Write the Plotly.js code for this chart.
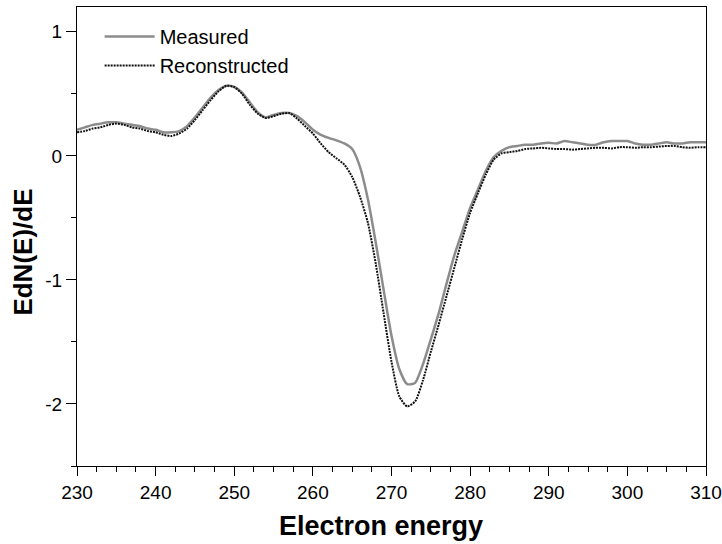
<!DOCTYPE html>
<html>
<head>
<meta charset="utf-8">
<script src="https://cdn.plot.ly/plotly-3.0.1.min.js"></script>
<style>html,body{margin:0;padding:0;background:#fff;}#chart{width:722px;height:544px;}</style>
</head>
<body>
<div id="chart"></div>
<script>
const energy = [230,231,232,233,234,235,236,237,238,239,240,241,242,243,244,245,246,247,248,249,250,251,252,253,254,255,256,257,258,259,260,261,262,263,264,265,266,267,268,269,270,271,272,273,274,275,276,277,278,279,280,281,282,283,284,285,286,287,288,289,290,291,292,293,294,295,296,297,298,299,300,301,302,303,304,305,306,307,308,309,310];

const measured = [0.21,0.23,0.25,0.26,0.27,0.27,0.26,0.25,0.24,0.22,0.21,0.19,0.19,0.20,0.24,0.31,0.39,0.47,0.53,0.565,0.555,0.51,0.43,0.35,0.31,0.33,0.345,0.345,0.32,0.27,0.21,0.17,0.145,0.125,0.10,0.055,-0.09,-0.35,-0.70,-1.08,-1.45,-1.72,-1.84,-1.83,-1.68,-1.48,-1.27,-1.03,-0.80,-0.61,-0.42,-0.27,-0.12,-0.01,0.04,0.07,0.08,0.09,0.09,0.10,0.105,0.10,0.12,0.11,0.10,0.09,0.09,0.11,0.12,0.12,0.12,0.10,0.09,0.09,0.10,0.11,0.10,0.10,0.11,0.11,0.11];

const reconstructed = [0.19,0.20,0.22,0.23,0.25,0.26,0.25,0.23,0.22,0.20,0.19,0.17,0.16,0.18,0.22,0.29,0.37,0.45,0.52,0.565,0.555,0.50,0.41,0.34,0.305,0.32,0.34,0.345,0.30,0.24,0.18,0.10,0.03,-0.02,-0.07,-0.17,-0.33,-0.54,-0.87,-1.27,-1.66,-1.94,-2.02,-1.98,-1.81,-1.58,-1.36,-1.13,-0.90,-0.67,-0.46,-0.30,-0.15,-0.03,0.02,0.03,0.04,0.055,0.06,0.065,0.06,0.055,0.055,0.05,0.055,0.06,0.065,0.065,0.06,0.07,0.07,0.065,0.07,0.07,0.075,0.08,0.08,0.07,0.065,0.07,0.07];

const seriesNames = ['Measured', 'Reconstructed'];
const xTitle = 'Electron energy';
const yTitle = 'EdN(E)/dE';
const xTickVals = [230,240,250,260,270,280,290,300,310];
const xTickText = ['230','240','250','260','270','280','290','300','310'];
const yTickVals = [-2,-1,0,1];
const yTickText = ['-2','-1','0','1'];

const font = 'Liberation Sans, Arial, sans-serif';

const traces = [
  {x: energy, y: measured, name: seriesNames[0], mode: 'lines',
   line: {color: '#8c8c8c', width: 2.5, shape: 'spline', smoothing: 0.6}},
  {x: energy, y: reconstructed, name: seriesNames[1], mode: 'lines',
   line: {color: '#111111', width: 2, dash: '2px,1px', shape: 'spline', smoothing: 0.6}}
];

const layout = {
  width: 722, height: 544,
  margin: {l: 77, r: 16, t: 7, b: 78},
  paper_bgcolor: '#fff', plot_bgcolor: '#fff',
  font: {family: font, size: 19, color: '#000'},
  showlegend: true,
  legend: {x: 0.036, y: 0.978, xanchor: 'left', yanchor: 'top', itemwidth: 50,
           tracegroupgap: 0,
           bgcolor: 'rgba(0,0,0,0)', font: {family: font, size: 20, color: '#000'}},
  xaxis: {
    range: [230, 310],
    tickmode: 'array', tickvals: xTickVals, ticktext: xTickText,
    showgrid: false, zeroline: false,
    showline: true, linecolor: '#000', linewidth: 1, mirror: true,
    ticks: 'outside', ticklen: 9, tickcolor: '#000', tickwidth: 1,
    minor: {dtick: 2.5, tick0: 230, ticks: 'outside', ticklen: 5, tickcolor: '#000', showgrid: false},
    tickfont: {family: font, size: 19, color: '#000'}
  },
  yaxis: {
    range: [-2.5, 1.2],
    tickmode: 'array', tickvals: yTickVals, ticktext: yTickText,
    showgrid: false, zeroline: false,
    showline: true, linecolor: '#000', linewidth: 1, mirror: true,
    ticks: 'outside', ticklen: 10, tickcolor: '#000', tickwidth: 1,
    minor: {dtick: 0.5, tick0: 0, ticks: 'outside', ticklen: 5, tickcolor: '#000', showgrid: false},
    tickfont: {family: font, size: 19, color: '#000'}
  },
  annotations: [
    {text: xTitle, xref: 'paper', yref: 'paper', x: 0.483, y: -0.131,
     xanchor: 'center', yanchor: 'middle', showarrow: false,
     font: {family: font, size: 27, weight: 'bold', color: '#000'}},
    {text: yTitle, xref: 'paper', yref: 'paper', x: -0.0859, y: 0.467,
     xanchor: 'center', yanchor: 'middle', showarrow: false, textangle: -90,
     font: {family: font, size: 26, weight: 'bold', color: '#000'}}
  ]
};

Plotly.newPlot('chart', traces, layout, {displayModeBar: false, staticPlot: true});
</script>
</body>
</html>
